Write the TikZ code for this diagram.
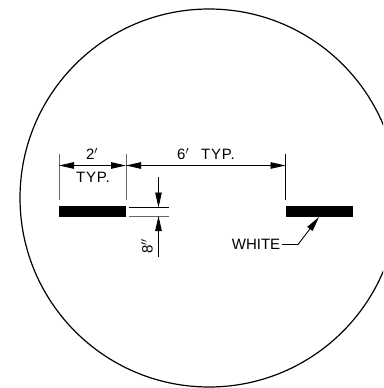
\documentclass[tikz,border=0pt]{standalone}
\usepackage{fontspec}
\setmainfont{Liberation Sans}[LetterSpace=5]
\newfontfamily\plainlbl{Liberation Sans}
\usetikzlibrary{arrows.meta}
\tikzset{
  thinln/.style={line width=0.9pt,black},
  greyln/.style={line width=1pt,black!60},
  dimarrow/.style={thinln,-{Stealth[length=15pt,width=6.5pt,inset=0pt]}},
  dimboth/.style={thinln,{Stealth[length=15pt,width=6.5pt,inset=0pt]}-{Stealth[length=15pt,width=6.5pt,inset=0pt]}},
  barshape/.style={fill=black,draw=none,minimum width=67pt,minimum height=10.5pt,inner sep=0pt},
  lbl/.style={inner sep=0pt,font=\fontsize{15pt}{16pt}\selectfont,text=black}
}
\begin{document}
\begin{tikzpicture}[x=1pt,y=-1pt]
\useasboundingbox (0,0) rectangle (383,388);
\begin{scope}
\clip (0,0) rectangle (383,388);
\draw[line width=1.2pt] (209,198) circle[radius=189];
\end{scope}
% bars
\node[barshape] (barL) at (92.5,211.3) {};
\node[barshape] (barR) at (319.5,211.3) {};
% extension lines
\coordinate (e1t) at (59,154); \coordinate (e1b) at (59,200);
\coordinate (e2t) at (126,154); \coordinate (e2b) at (126,200);
\coordinate (e3t) at (285.5,154); \coordinate (e3b) at (285.5,200);
\draw[greyln] (e1t) -- (e1b);
\draw[greyln] (e2t) -- (e2b);
\draw[thinln] (e3t) -- (e3b);
% horizontal dimensions
\coordinate (d1) at (59,165.5); \coordinate (d2) at (126,165.5); \coordinate (d3) at (285.5,165.5);
\draw[dimboth] (d1) -- (d2);
\draw[dimboth] (d2) -- (d3);
% 8 inch
\coordinate (g1a) at (129,207.5); \coordinate (g1b) at (169,207.5);
\coordinate (g2a) at (129,216); \coordinate (g2b) at (169,216);
\draw[thinln] (g1a) -- (g1b);
\draw[greyln] (g2a) -- (g2b);
\coordinate (v1) at (158.5,177); \coordinate (v1e) at (158.5,207.5);
\coordinate (v2) at (158.5,257); \coordinate (v2e) at (158.5,216);
\draw[dimarrow] (v1) -- (v1e);
\draw[dimarrow] (v2) -- (v2e);
% leader
\coordinate (l0) at (282,244.5); \coordinate (l1) at (298,244.5); \coordinate (l2) at (319,217);
\draw[dimarrow] (l0) -- (l1) -- (l2);
% labels
\node[lbl] (t2) at (92,154) {2$'$};
\node[lbl] (typ) at (93,177) {TYP.};
\node[lbl] (t6) at (206,154) {6$'$\hspace{12pt}TYP.};
\node[lbl,rotate=90] (t8) at (147,246) {8$''$};
\node[lbl] (tw) at (256,244) {\plainlbl WHITE};
\end{tikzpicture}
\end{document}
